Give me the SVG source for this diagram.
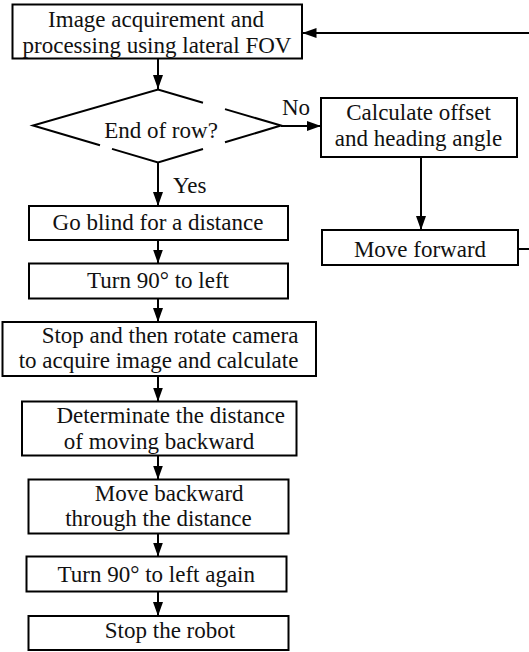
<svg xmlns="http://www.w3.org/2000/svg" width="529" height="652" viewBox="0 0 529 652">
<style>
.box{fill:#fff;stroke:#000;stroke-width:2}
.dia{fill:none;stroke:#000;stroke-width:2;stroke-linejoin:miter}
.t{font-family:"Liberation Serif","Times New Roman",serif;font-size:23px;fill:#111;text-anchor:middle}
.ts{font-family:"Liberation Serif","Times New Roman",serif;font-size:23px;fill:#111}
.c{fill:none;stroke:#000;stroke-width:2}
</style>
<defs>
<marker id="ah" markerUnits="userSpaceOnUse" markerWidth="14" markerHeight="10" refX="14" refY="5" orient="auto">
<path d="M0,0 L14,5 L0,10 z" fill="#000"/>
</marker>
</defs>
<rect width="529" height="652" fill="#fff"/>
<g id="connectors">
<path class="c" d="M158,58.5 V89" marker-end="url(#ah)"/>
<path class="c" d="M158,162.5 V206" marker-end="url(#ah)"/>
<path class="c" d="M281,126 H321" marker-end="url(#ah)"/>
<path class="c" d="M421,157 V230" marker-end="url(#ah)"/>
<path class="c" d="M518,249 H531 V33 H302.5" marker-end="url(#ah)"/>
<path class="c" d="M158,240 V263.5" marker-end="url(#ah)"/>
<path class="c" d="M158,298.5 V322" marker-end="url(#ah)"/>
<path class="c" d="M158,376 V401.5" marker-end="url(#ah)"/>
<path class="c" d="M158,455.5 V479.5" marker-end="url(#ah)"/>
<path class="c" d="M158,533.5 V556.5" marker-end="url(#ah)"/>
<path class="c" d="M158,591.5 V616" marker-end="url(#ah)"/>
<text class="ts" x="282" y="115">No</text>
<text class="ts" x="173" y="193">Yes</text>
</g>
<g id="n1">
<rect class="box" x="12.5" y="4.5" width="289.5" height="54"/>
<text class="t"><tspan x="156" y="27.25">Image acquirement and</tspan><tspan x="157" y="52.75">processing using lateral FOV</tspan></text>
</g>
<g id="n2">
<path class="dia" d="M100,145.3 L33,125.5 L158,89.5 L203,102.7 M225,109.1 L281,125.5 L225,142.3 M203,149 L158,162.5 L112,148.9"/>
<text class="t" x="161" y="138">End of row?</text>
</g>
<g id="n3">
<rect class="box" x="321" y="98" width="196" height="59"/>
<text class="t"><tspan x="418.5" y="120">Calculate offset</tspan><tspan x="418.5" y="145.5">and heading angle</tspan></text>
</g>
<g id="n4">
<rect class="box" x="322" y="230" width="196" height="35"/>
<text class="t" x="420" y="256.5">Move forward</text>
</g>
<g id="n5">
<rect class="box" x="29" y="206" width="259" height="34"/>
<text class="t" x="158" y="230">Go blind for a distance</text>
</g>
<g id="n6">
<rect class="box" x="29" y="263.5" width="259" height="35"/>
<text class="t" x="158" y="287.5">Turn 90° to left</text>
</g>
<g id="n7">
<rect class="box" x="2.5" y="322" width="313.5" height="54"/>
<text class="t"><tspan x="170" y="342.75">Stop and then rotate camera</tspan><tspan x="158.5" y="368.25">to acquire image and calculate</tspan></text>
</g>
<g id="n8">
<rect class="box" x="22" y="401.5" width="274.5" height="54"/>
<text class="t"><tspan x="170.7" y="423.25">Determinate the distance</tspan><tspan x="159" y="448.75">of moving backward</tspan></text>
</g>
<g id="n9">
<rect class="box" x="28.5" y="479.5" width="260" height="54"/>
<text class="t"><tspan x="169.2" y="500.6">Move backward</tspan><tspan x="158.5" y="526.1">through the distance</tspan></text>
</g>
<g id="n10">
<rect class="box" x="26.5" y="556.5" width="260" height="35"/>
<text class="t" x="156.3" y="581.7">Turn 90° to left again</text>
</g>
<g id="n11">
<rect class="box" x="28.5" y="616" width="260" height="34"/>
<text class="t" x="170" y="638.3">Stop the robot</text>
</g>
</svg>
